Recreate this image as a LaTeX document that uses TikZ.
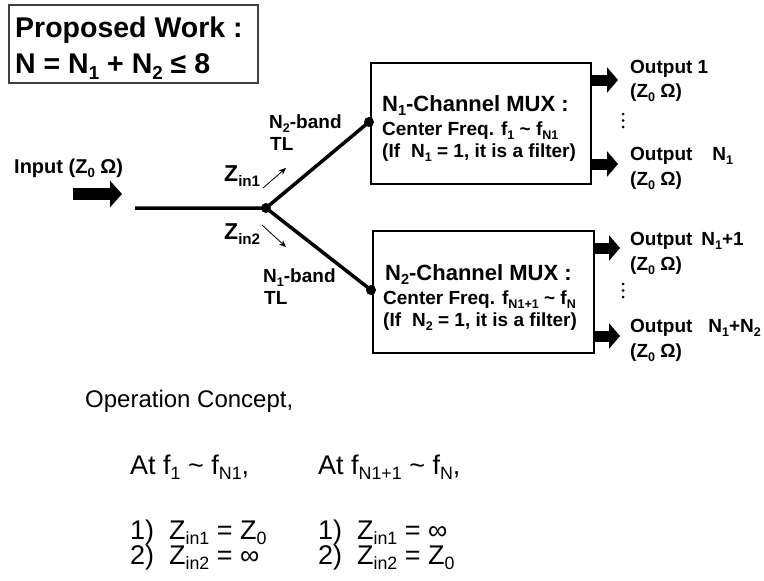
\documentclass[tikz,border=0pt]{standalone}
\usepackage{fontspec}
\setmainfont{Liberation Sans}
\usepackage{graphicx}
\usetikzlibrary{arrows.meta}
\newcommand{\fsz}[1]{\fontsize{#1}{#1}\selectfont}
\newcommand{\sbt}[1]{\raisebox{-0.22em}{\scalebox{0.66}{#1}}}
\begin{document}
\begin{tikzpicture}[x=1pt,y=-1pt,
  lbl/.style={anchor=base west, inner sep=0pt, font=\bfseries\fsz{19}},
  big/.style={anchor=base west, inner sep=0pt, font=\fsz{27}},
  mux/.style={draw, line width=1.5pt, anchor=north west, inner sep=0pt},
  wire/.style={line width=3.5pt},
  jdot/.style={circle, fill, inner sep=0pt, minimum size=10pt},
  fat/.style={line width=11pt, -{Triangle[length=11pt, width=25pt]}},
  fatin/.style={line width=12pt, -{Triangle[length=12pt, width=26pt]}},
  thinarr/.style={line width=0.8pt, -{Stealth[length=7pt, width=6pt]}},
  vdot/.style={circle, fill, inner sep=0pt, minimum size=3pt}]
\useasboundingbox (0,0) rectangle (764,581);

% title box
\node[draw=black!75, line width=1.5pt, anchor=north west, minimum width=249pt, minimum height=78pt, inner sep=0pt] (tbox) at (8,4) {};
\node[anchor=base west, inner sep=0pt, font=\bfseries\fsz{28.5}] (t1) at (15,37) {Proposed Work :};
\node[anchor=base west, inner sep=0pt, font=\bfseries\fsz{28.5}] (t2) at (15,73) {N = N\sbt{1} + N\sbt{2} ≤ 8};

% input
\node[anchor=base west, inner sep=0pt, font=\bfseries\fsz{20}] (inlbl) at (14,173) {Input (Z\sbt{0} Ω)};
\coordinate (inS) at (73,194);
\coordinate (inE) at (122,194);
\draw[fatin] (inS) -- (inE);

% wires
\coordinate (w0) at (135,208);
\node[jdot] (J) at (266,208) {};
\node[jdot] (D1) at (369,122) {};
\node[jdot] (D2) at (371,290) {};
\draw[wire] (w0) -- (J.center) -- (D1.center);
\draw[wire] (J.center) -- (D2.center);

% branch labels
\node[lbl] (b1) at (269,128) {N\sbt{2}-band};
\node[lbl] (b1t) at (270,150) {TL};
\node[lbl] (b2) at (263,282) {N\sbt{1}-band};
\node[lbl] (b2t) at (264,304) {TL};

\node[anchor=base west, inner sep=0pt, font=\bfseries\fsz{23}] (z1) at (224,181) {Z\sbt{in1}};
\node[anchor=base west, inner sep=0pt, font=\bfseries\fsz{23}] (z2) at (224,239) {Z\sbt{in2}};
\coordinate (a1s) at (263,188);
\coordinate (a1e) at (286,168);
\coordinate (a2s) at (262,225);
\coordinate (a2e) at (286,247);
\draw[thinarr] (a1s) -- (a1e);
\draw[thinarr] (a2s) -- (a2e);

% MUX boxes
\node[mux, minimum width=220pt, minimum height=121pt] (mux1) at (370,62) {};
\node[mux, minimum width=221pt, minimum height=122pt] (mux2) at (372,230) {};

\node[anchor=base west, inner sep=0pt, font=\bfseries\fsz{22}] (m1a) at (382,111) {N\sbt{1}-Channel MUX :};
\node[lbl] (m1b) at (382,135) {Center Freq. f\sbt{1} \textasciitilde{} f\sbt{N1}};
\node[lbl] (m1c) at (382,157) {(If\hspace{0.3em} N\sbt{1} = 1, it is a filter)};

\node[anchor=base west, inner sep=0pt, font=\bfseries\fsz{22}] (m2a) at (385,280) {N\sbt{2}-Channel MUX :};
\node[lbl] (m2b) at (383,304) {Center Freq. f\sbt{N1+1} \textasciitilde{} f\sbt{N}};
\node[lbl] (m2c) at (383,326) {(If\hspace{0.3em} N\sbt{2} = 1, it is a filter)};

% outputs
\coordinate (o1) at (618,80);
\coordinate (o2) at (618,164);
\coordinate (o3) at (620,248);
\coordinate (o4) at (620,336);
\draw[fat] (o1 -| mux1.east) -- (o1);
\draw[fat] (o2 -| mux1.east) -- (o2);
\draw[fat] (o3 -| mux2.east) -- (o3);
\draw[fat] (o4 -| mux2.east) -- (o4);

\node[lbl] (ol1) at (630,73) {Output 1};
\node[lbl] (oz1) at (630,97) {(Z\sbt{0} Ω)};
\node[lbl] (ol2) at (630,160) {Output\hspace{20pt}N\sbt{1}};
\node[lbl] (oz2) at (630,185) {(Z\sbt{0} Ω)};
\node[lbl] (ol3) at (630,245) {Output\hspace{9pt}N\sbt{1}+1};
\node[lbl] (oz3) at (630,270) {(Z\sbt{0} Ω)};
\node[lbl] (ol4) at (630,332) {Output\hspace{16pt}N\sbt{1}+N\sbt{2}};
\node[lbl] (oz4) at (630,357) {(Z\sbt{0} Ω)};

\node[vdot] (v1) at (623,114) {};
\node[vdot] (v2) at (623,120.5) {};
\node[vdot] (v3) at (623,127) {};
\node[vdot] (v4) at (623,284) {};
\node[vdot] (v5) at (623,290.5) {};
\node[vdot] (v6) at (623,297) {};

% operation concept
\node[anchor=base west, inner sep=0pt, font=\fsz{24}] (oc) at (85,407) {Operation Concept,};
\node[big] (c1) at (130,474) {At f\sbt{1} \textasciitilde{} f\sbt{N1},};
\node[big] (c2) at (318,474) {At f\sbt{N1+1} \textasciitilde{} f\sbt{N},};
\node[big] (c1a) at (130,539) {1)\hspace{0.55em}Z\sbt{in1} = Z\sbt{0}};
\node[big] (c1b) at (130,564) {2)\hspace{0.55em}Z\sbt{in2} = ∞};
\node[big] (c2a) at (318,539) {1)\hspace{0.55em}Z\sbt{in1} = ∞};
\node[big] (c2b) at (318,564) {2)\hspace{0.55em}Z\sbt{in2} = Z\sbt{0}};
\end{tikzpicture}
\end{document}
